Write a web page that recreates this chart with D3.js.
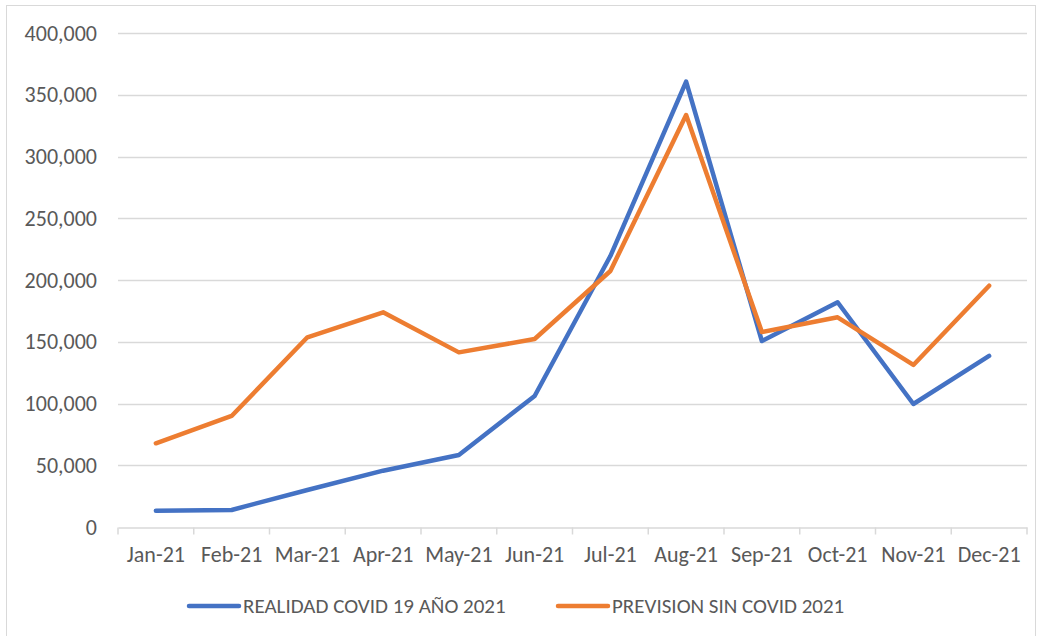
<!DOCTYPE html>
<html>
<head>
<meta charset="utf-8">
<script src="https://cdn.jsdelivr.net/npm/d3@7"></script>
<style>
  html, body { margin: 0; padding: 0; background: #fff; }
  svg { display: block; font-family: Carlito, Lato, "Liberation Sans", sans-serif; }
</style>
</head>
<body>
<div id="chart"></div>
<script>
const months = ['Jan-21', 'Feb-21', 'Mar-21', 'Apr-21', 'May-21', 'Jun-21',
                'Jul-21', 'Aug-21', 'Sep-21', 'Oct-21', 'Nov-21', 'Dec-21'];
const realidad = [13200, 13800, 30000, 45600, 58300, 106100,
                  219400, 360600, 150600, 182000, 99600, 138500];
const prevision = [67800, 89900, 153600, 173800, 141400, 152200,
                   207300, 333600, 157900, 169800, 131200, 195400];
const yTicks = [0, 50000, 100000, 150000, 200000, 250000, 300000, 350000, 400000];
const seriesNames = ['REALIDAD COVID 19 AÑO 2021', 'PREVISION SIN COVID 2021'];
const seriesColors = ['#4472C4', '#ED7D31'];

const width = 1040, height = 636;
const margin = { top: 33, right: 13, bottom: 109, left: 118 };
const fontFamily = 'Carlito, Lato, "Liberation Sans", sans-serif';

const svg = d3.select('#chart').append('svg')
    .attr('width', width)
    .attr('height', height);

// outer chart border
svg.append('rect')
    .attr('x', 6.5).attr('y', 5.5)
    .attr('width', width - 11).attr('height', height - 5)
    .attr('fill', 'none')
    .attr('stroke', '#d9d9d9');

const x = d3.scaleBand()
    .domain(months)
    .range([margin.left, width - margin.right]);

const y = d3.scaleLinear()
    .domain([0, 400000])
    .range([height - margin.bottom, margin.top]);

// gridlines
svg.append('g')
    .selectAll('line')
    .data(yTicks.filter(d => d > 0))
    .join('line')
    .attr('x1', margin.left).attr('x2', width - margin.right)
    .attr('y1', d => Math.round(y(d)) + 0.5).attr('y2', d => Math.round(y(d)) + 0.5)
    .attr('stroke', '#d9d9d9')
    .attr('stroke-width', 1.5);

// y axis labels
const fmt = d3.format(',');
svg.append('g')
    .attr('transform', `translate(${margin.left},0)`)
    .call(d3.axisLeft(y).tickValues(yTicks).tickFormat(fmt).tickSize(0).tickPadding(21))
    .call(g => g.select('.domain').remove())
    .call(g => g.selectAll('text')
        .attr('fill', '#595959')
        .style('font-size', '22px')
        .style('font-family', fontFamily));

// x axis
const xAxis = svg.append('g')
    .attr('transform', `translate(0,${Math.round(y(0)) + 0.5})`)
    .call(d3.axisBottom(x).tickSize(0).tickPadding(19))
    .call(g => g.select('.domain').attr('stroke', '#d9d9d9').attr('stroke-width', 1.5))
    .call(g => g.selectAll('text')
        .attr('fill', '#595959')
        .style('font-size', '22px')
        .style('font-family', fontFamily));

// category separator ticks
xAxis.append('g')
    .selectAll('line')
    .data(months.map(m => x(m)).concat([x.range()[1]]))
    .join('line')
    .attr('x1', d => d).attr('x2', d => d)
    .attr('y1', 0).attr('y2', 7)
    .attr('stroke', '#d9d9d9')
    .attr('stroke-width', 1.5);

const line = d3.line()
    .x((d, i) => x(months[i]) + x.bandwidth() / 2)
    .y(d => y(d));

[realidad, prevision].forEach((vals, i) => {
    svg.append('path')
        .datum(vals)
        .attr('fill', 'none')
        .attr('stroke', seriesColors[i])
        .attr('stroke-width', 4.5)
        .attr('stroke-linejoin', 'round')
        .attr('stroke-linecap', 'round')
        .attr('d', line);
});

// legend
const legendX = [189, 558];
const legend = svg.append('g');
seriesNames.forEach((name, i) => {
    const g = legend.append('g').attr('transform', `translate(${legendX[i]},606)`);
    g.append('line')
        .attr('x1', 0).attr('x2', 50)
        .attr('stroke', seriesColors[i])
        .attr('stroke-width', 4.5)
        .attr('stroke-linecap', 'round');
    g.append('text')
        .attr('x', 54)
        .attr('dy', '0.35em')
        .attr('fill', '#595959')
        .style('font-size', '21px')
        .style('font-family', fontFamily)
        .text(name);
});
</script>
</body>
</html>
